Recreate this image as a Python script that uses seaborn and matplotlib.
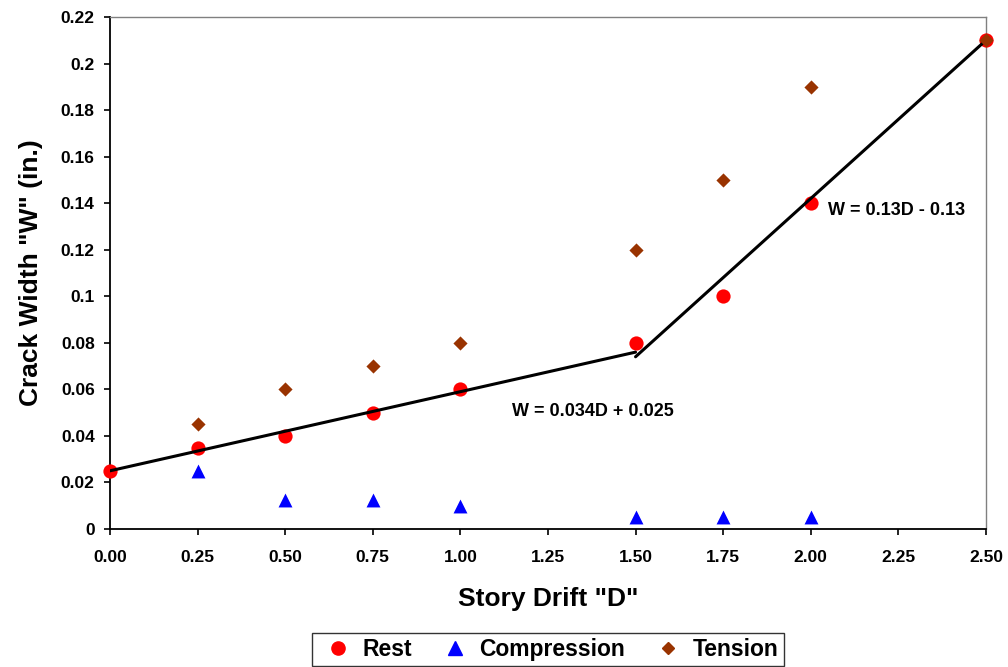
import matplotlib
matplotlib.use("Agg")
import matplotlib.pyplot as plt
from matplotlib.ticker import FuncFormatter, MultipleLocator
from matplotlib.lines import Line2D
import seaborn as sns

# Measured crack widths (in.) against story drift
rest_d = [0.0, 0.25, 0.5, 0.75, 1.0, 1.5, 1.75, 2.0, 2.5]
rest_w = [0.025, 0.035, 0.04, 0.05, 0.06, 0.08, 0.10, 0.14, 0.21]

comp_d = [0.25, 0.5, 0.75, 1.0, 1.5, 1.75, 2.0]
comp_w = [0.025, 0.0125, 0.0125, 0.01, 0.005, 0.005, 0.005]

tens_d = [0.25, 0.5, 0.75, 1.0, 1.5, 1.75, 2.0, 2.5]
tens_w = [0.045, 0.06, 0.07, 0.08, 0.12, 0.15, 0.19, 0.21]

# Bilinear fit segments (end points)
fit1_d = [0.0, 1.5]
fit1_w = [0.025, 0.076]
fit2_d = [1.5, 2.5]
fit2_w = [0.074, 0.21]

eq1 = "W = 0.034D + 0.025"
eq2 = "W = 0.13D - 0.13"
labels = ["Rest", "Compression", "Tension"]

sns.set_theme(style="white")
plt.rcParams["font.family"] = ["Liberation Sans", "DejaVu Sans"]
plt.rcParams["font.weight"] = "bold"
for key in ("text.color", "axes.labelcolor", "xtick.color", "ytick.color"):
    plt.rcParams[key] = "black"

fig = plt.figure(figsize=(10.08, 6.67), dpi=100)
ax = fig.add_axes([0.1091, 0.2069, 0.8690, 0.7676])

rest_c = "#ff0000"
comp_c = "#0000ff"
tens_c = "#993300"

sns.scatterplot(x=rest_d, y=rest_w, ax=ax, marker="o", s=105, color=rest_c,
                edgecolor=rest_c, linewidth=0, zorder=3, clip_on=False)
sns.scatterplot(x=comp_d, y=comp_w, ax=ax, marker="^", s=100, color=comp_c,
                edgecolor=comp_c, linewidth=0, zorder=3, clip_on=False)

# Fit lines sit above the circles
sns.lineplot(x=fit1_d, y=fit1_w, ax=ax, color="black", linewidth=2.2, sort=False,
             zorder=5)
sns.lineplot(x=fit2_d, y=fit2_w, ax=ax, color="black", linewidth=2.2, sort=False,
             zorder=5)

sns.scatterplot(x=tens_d, y=tens_w, ax=ax, marker="D", s=52, color=tens_c,
                edgecolor=tens_c, linewidth=0, zorder=6, clip_on=False)

ax.text(1.147, 0.0507, eq1, fontsize=13, fontweight="bold", va="center", ha="left")
ax.text(2.049, 0.137, eq2, fontsize=13, fontweight="bold", va="center", ha="left")

ax.set_xlim(0, 2.5)
ax.set_ylim(0, 0.22)
ax.xaxis.set_major_locator(MultipleLocator(0.25))
ax.yaxis.set_major_locator(MultipleLocator(0.02))
ax.xaxis.set_major_formatter(FuncFormatter(lambda v, p: f"{v:.2f}"))
ax.yaxis.set_major_formatter(FuncFormatter(lambda v, p: f"{round(v, 2):g}"))

ax.tick_params(axis="both", which="major", direction="out", length=4.5, width=1.2,
               color="black", labelsize=12.5, bottom=True, left=True)
ax.tick_params(axis="x", pad=10.5)
ax.tick_params(axis="y", pad=6.5)
for lab in ax.get_xticklabels() + ax.get_yticklabels():
    lab.set_fontweight("bold")

for side in ("left", "bottom"):
    ax.spines[side].set_color("black")
    ax.spines[side].set_linewidth(1.3)
for side in ("top", "right"):
    ax.spines[side].set_color("#808080")
    ax.spines[side].set_linewidth(1.0)

ax.set_xlabel('Story Drift "D"', fontsize=19, fontweight="bold", labelpad=16)
ax.set_ylabel('Crack Width "W" (in.)', fontsize=19, fontweight="bold", labelpad=13)

handles = [
    Line2D([], [], linestyle="none", marker="o", markersize=9.5, color=rest_c),
    Line2D([], [], linestyle="none", marker="^", markersize=9.5, color=comp_c),
    Line2D([], [], linestyle="none", marker="D", markersize=6.6, color=tens_c),
]
leg = fig.legend(handles, labels, ncol=3, loc="lower center",
                 bbox_to_anchor=(548 / 1008, 1 / 667),
                 frameon=True, fancybox=False, edgecolor="black",
                 prop={"size": 16.5, "weight": "bold"}, handletextpad=0.2,
                 columnspacing=1.0, borderpad=0.22, handlelength=1.75,
                 borderaxespad=0)
leg.get_frame().set_linewidth(1.0)

fig.savefig("out.png", dpi=100, facecolor="white")
